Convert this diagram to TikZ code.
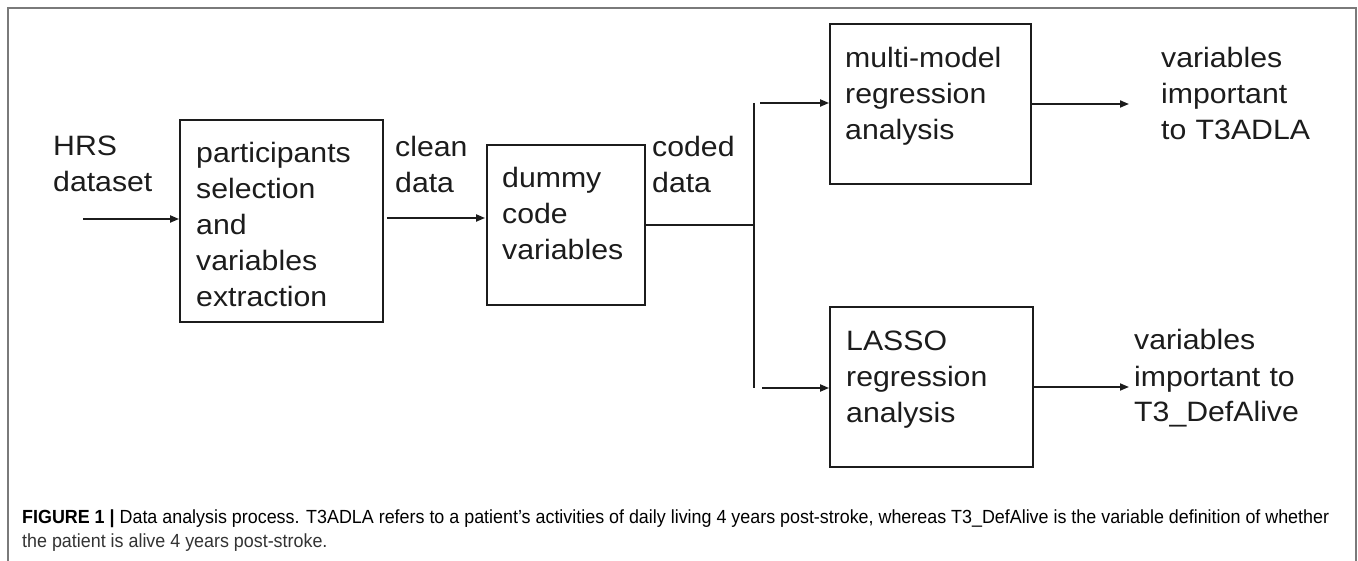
\documentclass[tikz,border=0pt]{standalone}
\usepackage{fontspec}
\setmainfont{Liberation Sans}
\newfontfamily\diagfont[FakeStretch=1.08]{Liberation Sans}
\usetikzlibrary{arrows.meta}
\definecolor{ink}{HTML}{1C1C1C}
\definecolor{framegray}{HTML}{7A7A7A}
\definecolor{captext}{HTML}{333333}
\newsavebox\capbox
\begin{document}
% first caption line, measured so both lines can be condensed alike
\sbox\capbox{\fontsize{19pt}{23pt}\selectfont\textbf{FIGURE 1 |} Data analysis process. T3ADLA refers to a patient’s activities of daily living 4 years post-stroke, whereas T3\_DefAlive is the variable definition of whether}%
\pgfmathsetmacro\capsx{1307/\the\wd\capbox}%
\begin{tikzpicture}[x=1pt,y=-1pt,
  box/.style={draw=ink, line width=1.8pt, rectangle, inner sep=0pt},
  lbl/.style={inner sep=0pt, anchor=base west, align=left, text width=230pt,
    text=ink, font=\diagfont\fontsize{28pt}{36pt}\selectfont},
  ln/.style={draw=ink, line width=1.8pt},
  arr/.style={ln, -{Triangle[length=9pt,width=7pt]}},
  captionline/.style={inner sep=0pt, anchor=base west, text=captext,
    font=\fontsize{19pt}{23pt}\selectfont}]
\useasboundingbox (0,0) rectangle (1358,561);
\fill[white] (0,0) rectangle (1358,561);
% open frame round the figure and its caption
\draw[framegray, line width=1.6pt] (8,561) -- (8,8) -- (1356,8) -- (1356,561);

% process boxes
\node[box, minimum width=203pt, minimum height=202pt] (sel) at (281.5,221) {};
\node[box, minimum width=158pt, minimum height=160pt] (dum) at (566,225) {};
\node[box, minimum width=201pt, minimum height=160pt] (mm)  at (930.5,104) {};
\node[box, minimum width=203pt, minimum height=160pt] (las) at (931.5,387) {};

% texts
\node[lbl] (hrs)   at (53,156)  {HRS\\dataset};
\node[lbl] (selt)  at (196,163) {participants\\selection\\and\\variables\\extraction};
\node[lbl] (clean) at (395,157) {clean\\data};
\node[lbl] (dumt)  at (502,188) {dummy\\code\\variables};
\node[lbl] (coded) at (652,157) {coded\\data};
\node[lbl] (mmt)   at (845,68)  {multi-model\\regression\\analysis};
\node[lbl] (out1)  at (1161,68) {variables\\important\\to T3ADLA};
\node[lbl] (last)  at (846,351) {LASSO\\regression\\analysis};
\node[lbl] (out2)  at (1134,350) {variables\\important to\\T3\_DefAlive};

% connectors
\coordinate (src) at (83,219);
\draw[arr] (src) -- (src -| sel.west);
\draw[arr, shorten <=3pt, shorten >=1pt] (sel.east |- 0,218) -- (dum.west |- 0,218);
\coordinate (jt) at (754,103);
\coordinate (jb) at (754,388);
\draw[ln] (dum.east) -- (dum.east -| jt);
\draw[ln] (jt) -- (jb);
\draw[arr] ([xshift=6pt]jt) -- (jt -| mm.west);
\draw[arr] ([xshift=8pt]jb) -- (jb -| las.west);
\coordinate (o1) at (1129,104);
\coordinate (o2) at (1129,387);
\draw[arr] (mm.east) -- (o1);
\draw[arr] (las.east) -- (o2);

% caption
\node[captionline] (cap1) at (22,523) {\scalebox{\capsx}[1]{\usebox\capbox}};
\node[captionline] (cap2) at (22,547) {\scalebox{\capsx}[1]{the patient is alive 4 years post-stroke.}};
\end{tikzpicture}
\end{document}
